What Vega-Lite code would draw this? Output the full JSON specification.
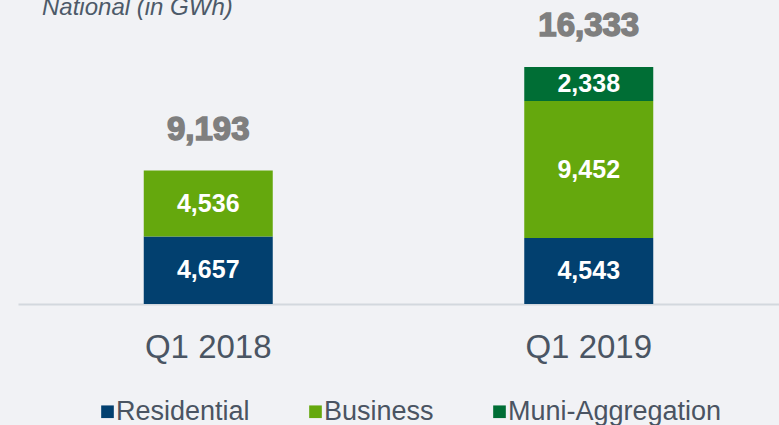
{
  "$schema": "https://vega.github.io/schema/vega-lite/v6.json",
  "autosize": {"type": "none"},
  "width": 761,
  "height": 274,
  "padding": {"left": 18, "top": 30, "right": 0, "bottom": 121},
  "background": "#f1f2f5",
  "config": {"view": {"stroke": null}, "font": "Liberation Sans"},
  "title": {
    "text": "National (in GWh)",
    "anchor": "start",
    "orient": "top",
    "offset": -29,
    "baseline": "alphabetic",
    "dx": 24,
    "fontSize": 24,
    "fontStyle": "italic",
    "fontWeight": "normal",
    "color": "#4d5a69",
    "font": "Liberation Sans"
  },
  "data": {
    "values": [
      {"quarter": "Q1 2018", "segment": "Residential", "gwh": 4657},
      {"quarter": "Q1 2018", "segment": "Business", "gwh": 4536},
      {"quarter": "Q1 2019", "segment": "Residential", "gwh": 4543},
      {"quarter": "Q1 2019", "segment": "Business", "gwh": 9452},
      {"quarter": "Q1 2019", "segment": "Muni-Aggregation", "gwh": 2338}
    ]
  },
  "encoding": {
    "x": {
      "field": "quarter",
      "type": "nominal",
      "scale": {"paddingInner": 0.662, "paddingOuter": 0.331},
      "axis": {
        "title": null,
        "labelAngle": 0,
        "labelFontSize": 33,
        "labelColor": "#4a5563",
        "labelPadding": 27,
        "ticks": false,
        "domainColor": "#d3d8de",
        "domainWidth": 2
      }
    }
  },
  "layer": [
    {
      "transform": [
        {"calculate": "indexof(['Residential','Business','Muni-Aggregation'], datum.segment)", "as": "ord"},
        {"stack": "gwh", "groupby": ["quarter"], "sort": [{"field": "ord", "order": "ascending"}], "as": ["y0", "y1"]}
      ],
      "mark": {"type": "bar", "size": 129},
      "encoding": {
        "y": {"field": "y0", "type": "quantitative", "scale": {"domain": [0, 18883], "nice": false}, "axis": null},
        "y2": {"field": "y1"},
        "color": {
          "field": "segment",
          "type": "nominal",
          "scale": {"domain": ["Residential", "Business", "Muni-Aggregation"], "range": ["#02406f", "#65a80d", "#006e35"]},
          "legend": {
            "title": null,
            "orient": "none",
            "direction": "horizontal",
            "legendX": 76,
            "legendY": 368,
            "padding": 0,
            "symbolType": "square",
            "symbolSize": 160,
            "symbolStrokeWidth": 0,
            "labelFontSize": 27,
            "labelLimit": 400,
            "labelColor": "#4a5462",
            "labelOffset": -5,
            "columnPadding": 52
          }
        }
      }
    },
    {
      "transform": [
        {"calculate": "indexof(['Residential','Business','Muni-Aggregation'], datum.segment)", "as": "ord"},
        {"stack": "gwh", "groupby": ["quarter"], "sort": [{"field": "ord", "order": "ascending"}], "as": ["y0", "y1"]},
        {"calculate": "(datum.y0 + datum.y1) / 2", "as": "ymid"}
      ],
      "mark": {"type": "text", "color": "white", "fontSize": 25, "fontWeight": "bold", "baseline": "middle"},
      "encoding": {
        "y": {"field": "ymid", "type": "quantitative", "scale": {"domain": [0, 18883], "nice": false}},
        "text": {"field": "gwh", "type": "quantitative", "format": ","}
      }
    },
    {
      "transform": [
        {"aggregate": [{"op": "sum", "field": "gwh", "as": "total"}], "groupby": ["quarter"]}
      ],
      "mark": {"type": "text", "color": "#7f7f7f", "stroke": "#7f7f7f", "strokeWidth": 1.5, "fontSize": 33, "fontWeight": "bold", "baseline": "middle", "dy": -41},
      "encoding": {
        "y": {"field": "total", "type": "quantitative", "scale": {"domain": [0, 18883], "nice": false}},
        "text": {"field": "total", "type": "quantitative", "format": ","}
      }
    }
  ]
}
